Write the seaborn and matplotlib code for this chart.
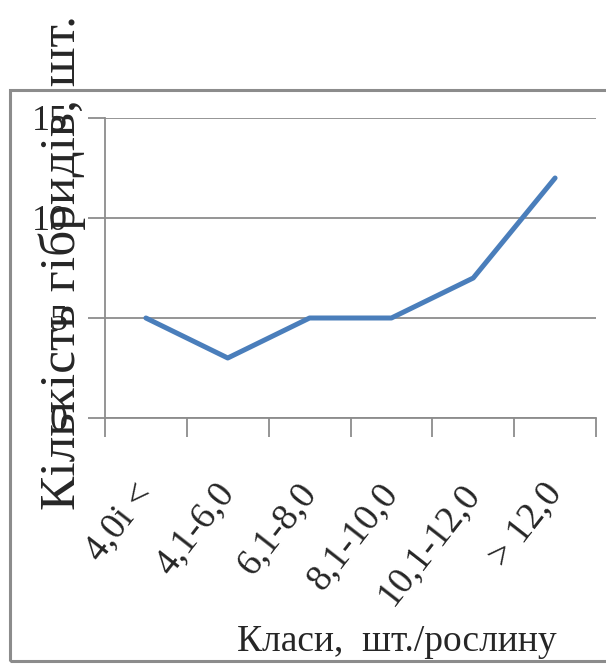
import matplotlib
matplotlib.use("Agg")
import matplotlib.pyplot as plt
import seaborn as sns
import pandas as pd
from matplotlib.patches import Rectangle

# Data
classes = ["4,0i <", "4,1-6,0", "6,1-8,0", "8,1-10,0", "10,1-12,0", "> 12,0"]
counts = [5, 3, 5, 5, 7, 12]
y_ticks = [0, 5, 10, 15]

x_title = "Класи,  шт./рослину"
y_title = "Кількість гібридів, шт."

sns.set_style("white")
plt.rcParams["font.family"] = ["Liberation Serif", "DejaVu Serif"]

W, H = 606, 666
fig = plt.figure(figsize=(W / 100, H / 100), dpi=100)
fig.patch.set_facecolor("white")

# Outer chart frame (right edge runs off the canvas)
fig.patches.append(Rectangle((10 / W, (H - 661) / H), 1.2, (661 - 90) / H,
                             transform=fig.transFigure, fill=False,
                             edgecolor="#8c8c8c", linewidth=2.2, zorder=0))

ax = fig.add_axes([105 / W, (H - 418) / H, (596 - 105) / W, 300 / H])
ax.set_facecolor("none")

df = pd.DataFrame({"cls": classes, "n": counts})
sns.lineplot(data=df, x="cls", y="n", sort=False, ax=ax, color="#4a7ebb",
             linewidth=3.6, solid_capstyle="round", solid_joinstyle="round")

ax.set_xlim(-0.5, len(classes) - 0.5)
ax.set_ylim(0, 15)
ax.set_yticks(y_ticks)
ax.yaxis.grid(True, color="#8c8c8c", linewidth=1.3)
ax.set_axisbelow(True)

grey = "#8c8c8c"
for s in ["top", "right"]:
    ax.spines[s].set_visible(False)
for s in ["left", "bottom"]:
    ax.spines[s].set_color(grey)
    ax.spines[s].set_linewidth(1.3)

ax.tick_params(axis="y", length=12, width=1.3, color=grey, direction="out",
               pad=15, labelsize=26, left=True)
ax.set_xticks(range(len(classes)))
ax.set_xticklabels(classes)
ax.set_xticks([i - 0.5 for i in range(len(classes) + 1)], minor=True)
ax.tick_params(axis="x", which="major", length=0, pad=50, labelsize=27)
ax.tick_params(axis="x", which="minor", length=14, width=1.3, color=grey,
               direction="out", bottom=True)
for lab in ax.get_xticklabels():
    lab.set_rotation(52)
    lab.set_ha("right")
    lab.set_va("center")
    lab.set_rotation_mode("anchor")

ax.set_xlabel("")
ax.set_ylabel("")

fig.text(397 / W, (H - 642) / H, x_title, ha="center", va="center",
         fontsize=27)
fig.text(62 / W, (H - 262) / H, y_title, ha="center", va="center",
         rotation=90, fontsize=37)

fig.savefig("out.png", dpi=100)
